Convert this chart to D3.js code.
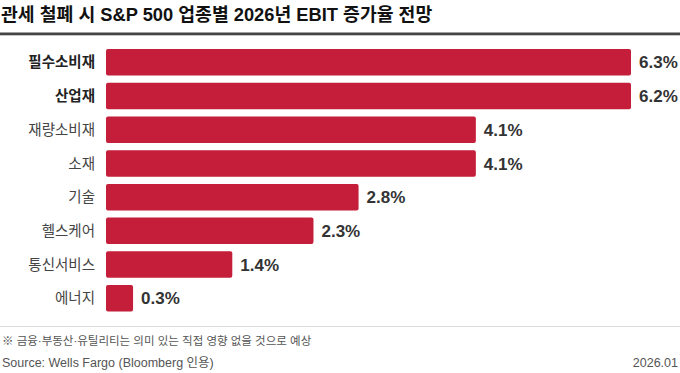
<!DOCTYPE html>
<html>
<head>
<meta charset="utf-8">
<script src="https://cdn.jsdelivr.net/npm/d3@7"></script>
<style>
  body { margin: 0; background: #fff; }
  svg { display: block; font-family: "Liberation Sans", Arial, "Noto Sans CJK KR", sans-serif; }
</style>
</head>
<body>
<div id="chart"></div>
<script>
// data
const sectors = ['필수소비재', '산업재', '재량소비재', '소재', '기술', '헬스케어', '통신서비스', '에너지'];
const growth = [6.3, 6.2, 4.1, 4.1, 2.8, 2.3, 1.4, 0.3];
const boldSectors = ['필수소비재', '산업재'];

const titleText = '관세 철폐 시 S&P 500 업종별 2026년 EBIT 증가율 전망';
const noteText = '※ 금융·부동산·유틸리티는 의미 있는 직접 영향 없을 것으로 예상';
const sourceText = 'Source: Wells Fargo (Bloomberg 인용)';
const dateText = '2026.01';

const width = 680, height = 373;
const margin = {left: 106, right: 49};
const barColor = '#c41e3a';

const data = sectors.map((s, i) => ({sector: s, value: growth[i]}));

const svg = d3.select('#chart').append('svg')
  .attr('width', width)
  .attr('height', height);

// title + heavy rule
svg.append('text')
  .attr('x', 1)
  .attr('y', 21)
  .attr('font-size', 18.3)
  .attr('font-weight', 'bold')
  .attr('fill', '#111')
  .text(titleText);

svg.append('rect')
  .attr('x', 0).attr('y', 32.5)
  .attr('width', width).attr('height', 2.8)
  .attr('fill', '#444');

// scales - the two top bars are capped at the right edge in the original
const x = d3.scaleLinear()
  .domain([0, 5.82])
  .range([margin.left, width - margin.right])
  .clamp(true);

const y = d3.scaleBand()
  .domain(sectors)
  .range([45.5, 315.1])
  .paddingInner(0.214)
  .paddingOuter(0.107);

const g = svg.append('g');

g.selectAll('.bar')
  .data(data)
  .enter().append('rect')
    .attr('class', 'bar')
    .attr('x', x(0))
    .attr('y', d => y(d.sector))
    .attr('width', d => x(d.value) - x(0))
    .attr('height', y.bandwidth())
    .attr('rx', 2)
    .attr('fill', barColor);

// sector labels
g.selectAll('.cat')
  .data(data)
  .enter().append('text')
    .attr('class', 'cat')
    .attr('x', 95)
    .attr('y', d => y(d.sector) + y.bandwidth() / 2)
    .attr('dy', '0.35em')
    .attr('text-anchor', 'end')
    .attr('font-family', '"Noto Sans CJK KR", sans-serif')
    .attr('font-size', 14.5)
    .attr('font-weight', d => boldSectors.includes(d.sector) ? 'bold' : 'normal')
    .attr('fill', d => boldSectors.includes(d.sector) ? '#222' : '#444')
    .text(d => d.sector);

// value labels
g.selectAll('.val')
  .data(data)
  .enter().append('text')
    .attr('class', 'val')
    .attr('x', d => x(d.value) + 8)
    .attr('y', d => y(d.sector) + y.bandwidth() / 2)
    .attr('dy', '0.36em')
    .attr('font-size', 17)
    .attr('font-weight', 'bold')
    .attr('fill', '#333')
    .text(d => d.value.toFixed(1) + '%');

// footer
svg.append('line')
  .attr('x1', 0).attr('x2', width)
  .attr('y1', 326.5).attr('y2', 326.5)
  .attr('stroke', '#ddd')
  .attr('stroke-width', 1);

svg.append('text')
  .attr('x', 2).attr('y', 345)
  .attr('font-size', 11.5)
  .attr('fill', '#555')
  .text(noteText);

svg.append('text')
  .attr('x', 2).attr('y', 367)
  .attr('font-size', 12.5)
  .attr('fill', '#555')
  .text(sourceText);

svg.append('text')
  .attr('x', 678).attr('y', 367)
  .attr('text-anchor', 'end')
  .attr('font-size', 12.5)
  .attr('fill', '#555')
  .text(dateText);
</script>
</body>
</html>
